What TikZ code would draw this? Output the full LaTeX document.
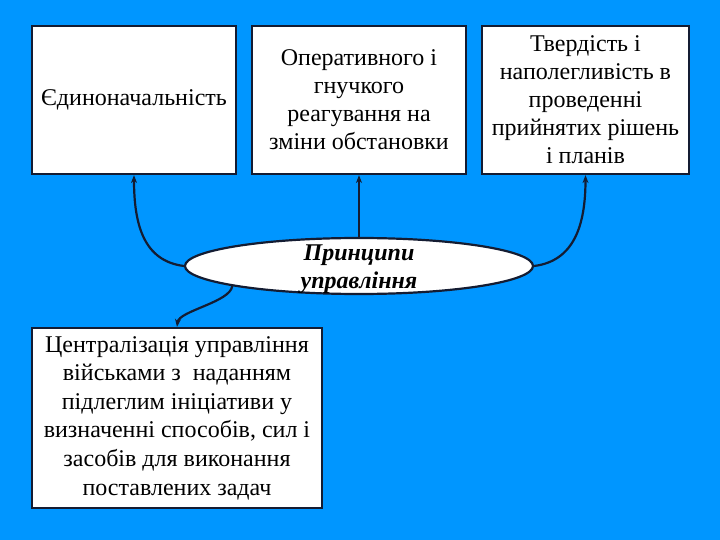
\documentclass[tikz,border=0pt]{standalone}
\usepackage{fontspec}
\setmainfont{Liberation Serif}
\usetikzlibrary{arrows.meta,shapes.geometric}
\definecolor{bgblue}{RGB}{0,150,255}
\definecolor{edge}{RGB}{20,28,50}
\begin{document}
\begin{tikzpicture}[x=1pt,y=-1pt,
	box/.style={draw=edge,fill=white,line width=2.2pt,align=center,inner sep=0pt,font=\fontsize{24}{28}\selectfont},
	link/.style={draw=edge,line width=2.2pt,-{Stealth[length=8pt,width=6pt]}}]

	\fill[bgblue] (0,0) rectangle (720,540);

	\node[box,minimum width=204pt,minimum height=148pt] (edyn) at (134,100) {Єдиноначальність};
	\node[box,minimum width=214pt,minimum height=148pt] (oper) at (359,100) {Оперативного і\\гнучкого\\реагування на\\зміни обстановки};
	\node[box,minimum width=207pt,minimum height=148pt] (tverd) at (585.5,100) {Твердість і\\наполегливість в\\проведенні\\прийнятих рішень\\і планів};
	\node[box,minimum width=290pt,minimum height=180pt,font=\fontsize{24}{28.6}\selectfont] (centr) at (177,418) {Централізація управління\\військами з~ наданням\\підлеглим ініціативи у\\визначенні способів, сил і\\засобів для виконання\\поставлених задач};

	\node[ellipse,draw=edge,fill=white,line width=2.2pt,minimum width=348pt,minimum height=56pt,inner sep=0pt,
		label={[align=center,inner sep=0pt,yshift=-3pt,font=\fontsize{24}{28}\selectfont\bfseries\itshape]center:Принципи\\управління}] (princ) at (359,266) {};

	\draw[link] (princ.west) .. controls +(-40,-5) and +(0,50) .. (edyn.south);
	\draw[link] (princ.north) -- (oper.south);
	\draw[link] (princ.east) .. controls +(40,-5) and +(0,50) .. (tverd.south);
	\draw[link] (princ.-171) .. controls +(-2,16) and +(2,-16) .. (centr.north);
\end{tikzpicture}
\end{document}
